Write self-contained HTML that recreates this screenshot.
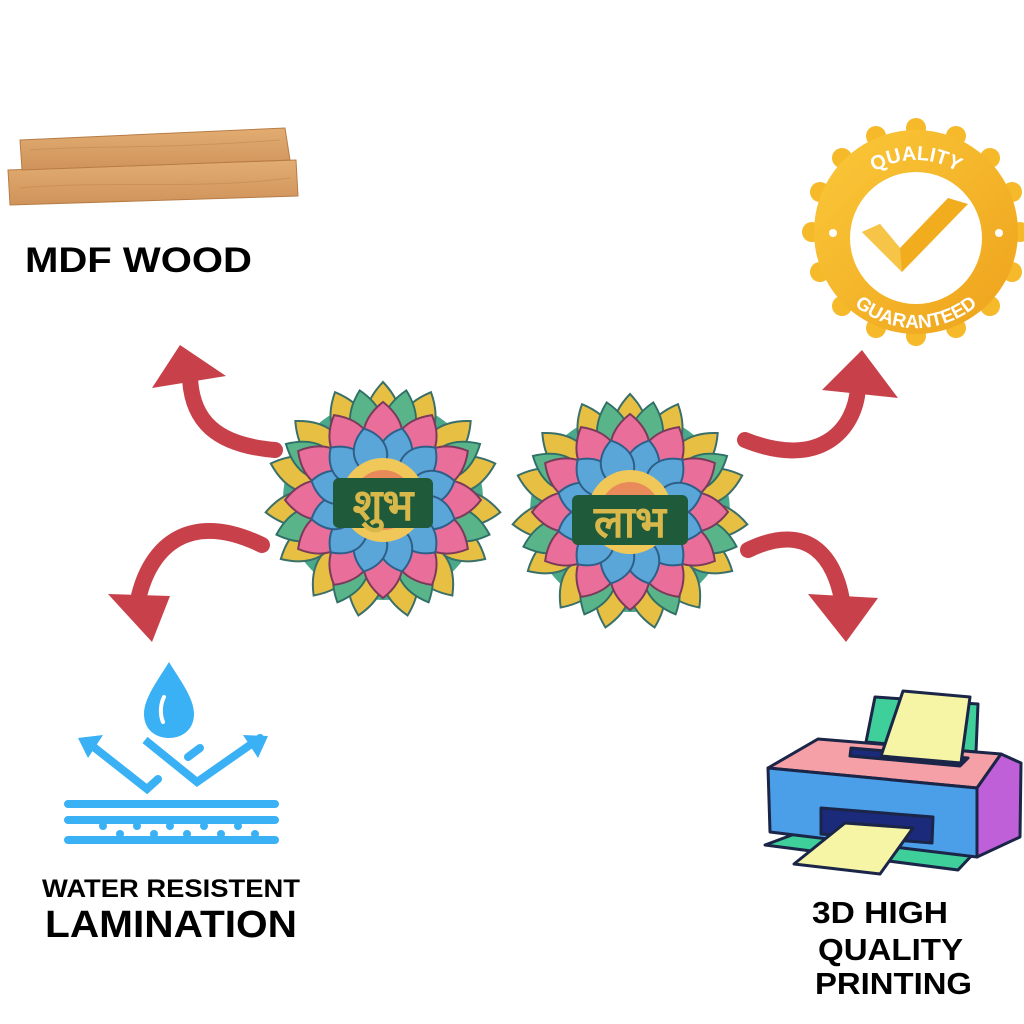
<!DOCTYPE html>
<html><head><meta charset="utf-8"><style>
html,body{margin:0;padding:0;background:#fff;}
svg{display:block}
text{font-family:"Liberation Sans",sans-serif;font-weight:bold}
</style></head><body>
<svg width="1024" height="1024" viewBox="0 0 1024 1024" xmlns="http://www.w3.org/2000/svg">
<defs>
<linearGradient id="gold" x1="0" y1="0" x2="1" y2="1"><stop offset="0" stop-color="#fbc93a"/><stop offset="1" stop-color="#eea21c"/></linearGradient>
<linearGradient id="wood" x1="0" y1="0" x2="0" y2="1"><stop offset="0" stop-color="#e2ad72"/><stop offset="1" stop-color="#cf935a"/></linearGradient>
<path id="arcTop" d="M838,238 A78,78 0 0 1 994,238"/>
<path id="arcBot" d="M822,234 A94,94 0 0 0 1010,234"/>
<path id="pA" d="M0,-118 C22,-95 24,-70 0,-50 C-24,-70 -22,-95 0,-118Z"/>
<path id="pB" d="M0,-98 C26,-78 26,-50 0,-36 C-26,-50 -26,-78 0,-98Z"/>
<path id="pC" d="M0,-74 C22,-60 22,-36 0,-24 C-22,-36 -22,-60 0,-74Z"/>
<g id="mandala">
<circle r="100" fill="#4aa98a"/>
<g fill="#e7c043" stroke="#3a6f6a" stroke-width="2">
<use href="#pA"/><use href="#pA" transform="rotate(24)"/><use href="#pA" transform="rotate(48)"/><use href="#pA" transform="rotate(72)"/><use href="#pA" transform="rotate(96)"/><use href="#pA" transform="rotate(120)"/><use href="#pA" transform="rotate(144)"/><use href="#pA" transform="rotate(168)"/><use href="#pA" transform="rotate(192)"/><use href="#pA" transform="rotate(216)"/><use href="#pA" transform="rotate(240)"/><use href="#pA" transform="rotate(264)"/><use href="#pA" transform="rotate(288)"/><use href="#pA" transform="rotate(312)"/><use href="#pA" transform="rotate(336)"/>
</g>
<g fill="#59b48a" stroke="#2f6f66" stroke-width="2">
<use href="#pA" transform="rotate(12) scale(.95)"/><use href="#pA" transform="rotate(60) scale(.95)"/><use href="#pA" transform="rotate(108) scale(.95)"/><use href="#pA" transform="rotate(156) scale(.95)"/><use href="#pA" transform="rotate(204) scale(.95)"/><use href="#pA" transform="rotate(252) scale(.95)"/><use href="#pA" transform="rotate(300) scale(.95)"/><use href="#pA" transform="rotate(348) scale(.95)"/>
</g>
<g fill="#e96f9a" stroke="#7a3a5a" stroke-width="2">
<use href="#pB" transform="rotate(0)"/><use href="#pB" transform="rotate(30)"/><use href="#pB" transform="rotate(60)"/><use href="#pB" transform="rotate(90)"/><use href="#pB" transform="rotate(120)"/><use href="#pB" transform="rotate(150)"/><use href="#pB" transform="rotate(180)"/><use href="#pB" transform="rotate(210)"/><use href="#pB" transform="rotate(240)"/><use href="#pB" transform="rotate(270)"/><use href="#pB" transform="rotate(300)"/><use href="#pB" transform="rotate(330)"/>
</g>
<g fill="#5aa6d8" stroke="#2e5f88" stroke-width="2">
<use href="#pC" transform="rotate(15)"/><use href="#pC" transform="rotate(45)"/><use href="#pC" transform="rotate(75)"/><use href="#pC" transform="rotate(105)"/><use href="#pC" transform="rotate(135)"/><use href="#pC" transform="rotate(165)"/><use href="#pC" transform="rotate(195)"/><use href="#pC" transform="rotate(225)"/><use href="#pC" transform="rotate(255)"/><use href="#pC" transform="rotate(285)"/><use href="#pC" transform="rotate(315)"/><use href="#pC" transform="rotate(345)"/>
</g>
<circle r="42" fill="#f0c85a"/>
<circle r="30" fill="#e98a5a"/>
</g>
</defs>

<!-- wood -->
<polygon points="8,170 296,160 298,196 10,205" fill="url(#wood)" stroke="#b77c45" stroke-width="1"/>
<polygon points="20,140 285,128 290,160 22,170" fill="url(#wood)" stroke="#b77c45" stroke-width="1"/>
<path d="M30,150 C90,145 150,150 280,140 M20,188 C110,180 200,190 290,178" stroke="#c08850" stroke-width="1" fill="none" opacity=".6"/>
<text x="25" y="272" font-size="35" textLength="227" lengthAdjust="spacingAndGlyphs">MDF WOOD</text>

<!-- badge -->
<g fill="#f5b92a">
<circle cx="916" cy="128" r="10"/><circle cx="916" cy="336" r="10"/><circle cx="812" cy="232" r="10"/><circle cx="1020" cy="232" r="10"/>
<circle cx="990" cy="158" r="10"/><circle cx="842" cy="306" r="10"/><circle cx="842" cy="158" r="10"/><circle cx="990" cy="306" r="10"/>
<circle cx="956" cy="136" r="10"/><circle cx="876" cy="136" r="10"/><circle cx="956" cy="328" r="10"/><circle cx="876" cy="328" r="10"/>
<circle cx="820" cy="192" r="10"/><circle cx="820" cy="272" r="10"/><circle cx="1012" cy="192" r="10"/><circle cx="1012" cy="272" r="10"/>
</g>
<circle cx="916" cy="232" r="102" fill="url(#gold)"/>
<circle cx="916" cy="238" r="66" fill="#fff"/>
<circle cx="833" cy="233" r="4" fill="#fff"/><circle cx="999" cy="233" r="4" fill="#fff"/>
<path d="M862,232 L880,224 L900,248 L948,198 L968,204 L902,272 Z" fill="#f2ad1f"/>
<path d="M880,224 L900,248 L902,272 L862,232Z" fill="#f6c446"/>
<text font-size="20" fill="#fff" text-anchor="middle"><textPath href="#arcTop" startOffset="50%">QUALITY</textPath></text>
<text font-size="19" fill="#fff" text-anchor="middle"><textPath href="#arcBot" startOffset="50%">GUARANTEED</textPath></text>

<!-- arrows -->
<g fill="none" stroke="#c8414a" stroke-width="16" stroke-linecap="round">
<path d="M275,450 C215,445 192,420 190,378"/>
<path d="M262,545 C190,510 150,545 138,600"/>
<path d="M745,440 C820,470 855,430 858,388"/>
<path d="M748,550 C810,520 835,560 842,600"/>
</g>
<g fill="#c8414a">
<polygon points="180,345 152,388 226,376"/>
<polygon points="152,642 108,594 170,596"/>
<polygon points="862,350 822,390 898,398"/>
<polygon points="846,642 808,594 878,598"/>
</g>

<!-- mandalas -->
<use href="#mandala" transform="translate(383,500)"/>
<use href="#mandala" transform="translate(630,512)"/>
<rect x="333" y="478" width="100" height="50" rx="6" fill="#1f5a3a"/>
<rect x="572" y="495" width="116" height="50" rx="6" fill="#1f5a3a"/>
<text x="383" y="520" font-size="44" fill="#d8b84a" text-anchor="middle" style="font-family:'Liberation Sans','Noto Sans CJK SC',sans-serif">शुभ</text>
<text x="630" y="537" font-size="44" fill="#d8b84a" text-anchor="middle" style="font-family:'Liberation Sans','Noto Sans CJK SC',sans-serif">लाभ</text>

<!-- water -->
<path d="M169,662 C180,680 194,698 194,714 C194,730 182,738 169,738 C156,738 144,730 144,714 C144,698 158,680 169,662Z" fill="#3ab1f5"/>
<path d="M164,697 C160,705 160,715 163,722" stroke="#fff" stroke-width="4" fill="none" stroke-linecap="round"/>
<g stroke="#3ab1f5" stroke-width="8" stroke-linecap="round" fill="none">
<path d="M150,744 L145,740 L197,782 L260,738"/>
<path d="M86,741 L147,789 L158,779"/>
<path d="M188,757 L200,748"/>
<path d="M68,804 L275,804 M68,820 L275,820 M68,840 L275,840"/>
</g>
<polygon points="78,738 103,735 88,758" fill="#3ab1f5"/>
<polygon points="268,736 243,735 258,758" fill="#3ab1f5"/>
<g fill="#3ab1f5"><circle cx="103" cy="826" r="4"/><circle cx="137" cy="826" r="4"/><circle cx="170" cy="826" r="4"/><circle cx="204" cy="826" r="4"/><circle cx="238" cy="826" r="4"/><circle cx="120" cy="834" r="4"/><circle cx="154" cy="834" r="4"/><circle cx="187" cy="834" r="4"/><circle cx="221" cy="834" r="4"/><circle cx="255" cy="834" r="4"/></g>
<text x="42" y="897" font-size="25" textLength="258" lengthAdjust="spacingAndGlyphs">WATER RESISTENT</text>
<text x="45" y="937" font-size="38" textLength="252" lengthAdjust="spacingAndGlyphs">LAMINATION</text>

<!-- printer -->
<g stroke="#1b2547" stroke-width="3" stroke-linejoin="round">
<polygon points="875,697 978,704 976,752 866,742" fill="#3fcf9a"/>
<polygon points="765,845 800,832 975,852 958,870" fill="#3fcf9a"/>
<polygon points="768,768 818,739 1001,754 977,788" fill="#f4a0a6"/>
<polygon points="851,748 968,758 960,766 850,756" fill="#1b2a7a"/>
<polygon points="903,691 970,697 961,763 881,756" fill="#f5f5a5"/>
<polygon points="768,768 977,788 977,857 770,832" fill="#4a9fe8"/>
<polygon points="977,788 1001,754 1021,763 1020,837 977,857" fill="#c060d8"/>
<polygon points="821,808 933,817 932,843 821,834" fill="#1b2a7a"/>
<polygon points="845,823 913,828 880,874 794,864" fill="#f5f5a5"/>
</g>
<text x="812" y="923" font-size="31" textLength="136" lengthAdjust="spacingAndGlyphs">3D HIGH</text>
<text x="818" y="960" font-size="31" textLength="145" lengthAdjust="spacingAndGlyphs">QUALITY</text>
<text x="815" y="994" font-size="31" textLength="157" lengthAdjust="spacingAndGlyphs">PRINTING</text>
</svg>
</body></html>
